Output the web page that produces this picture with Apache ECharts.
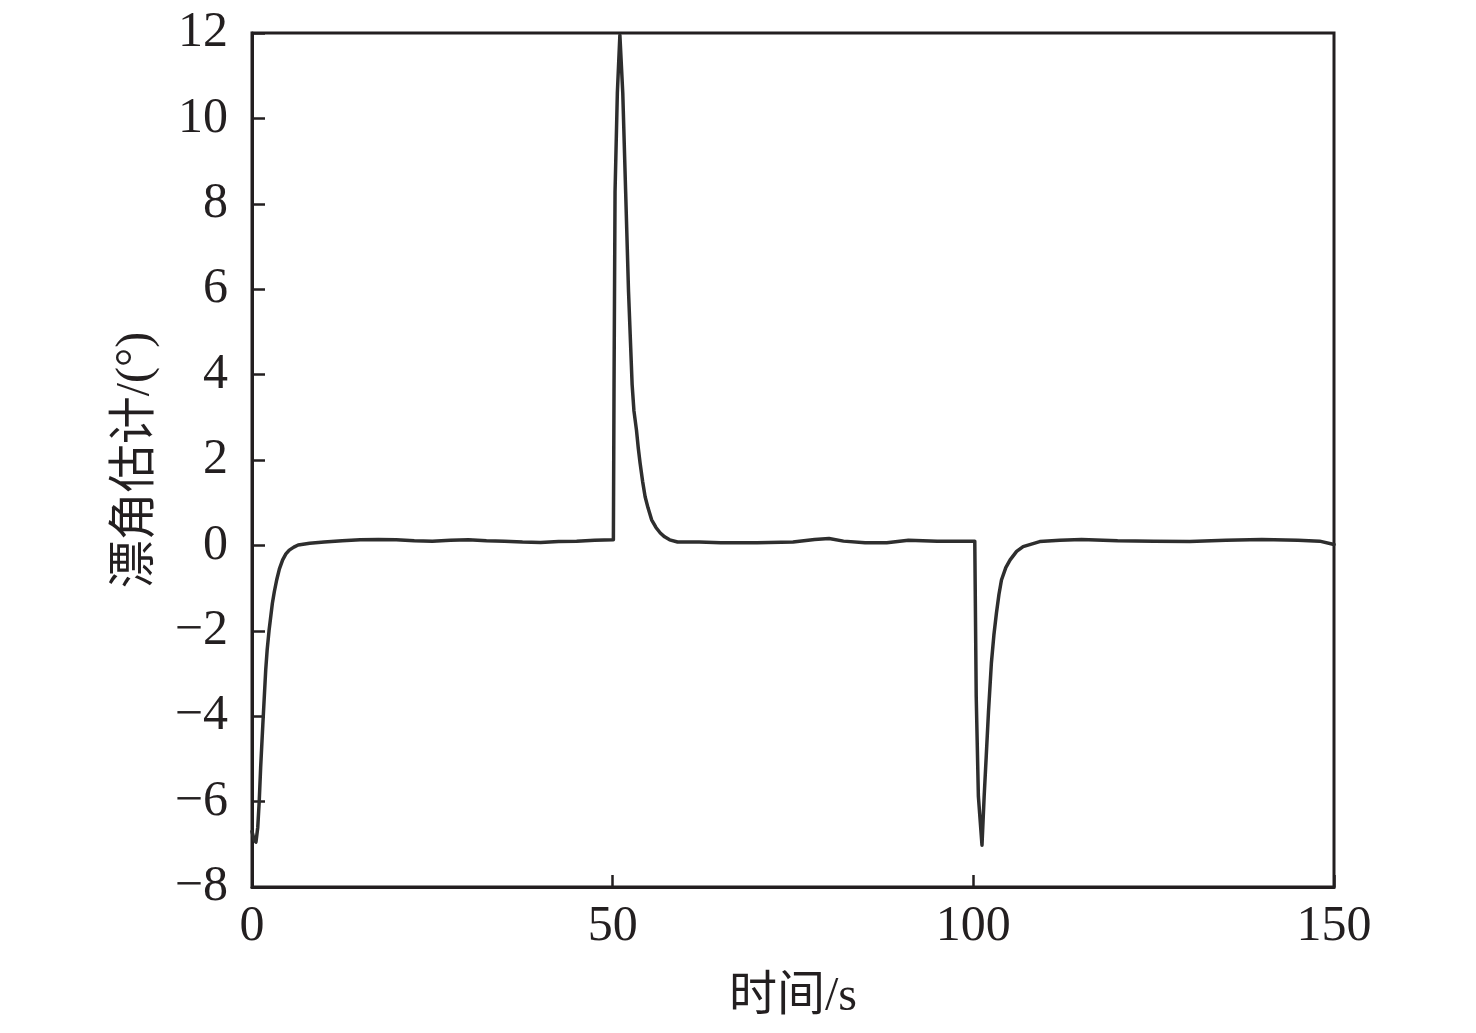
<!DOCTYPE html>
<html>
<head>
<meta charset="utf-8">
<script src="https://cdn.jsdelivr.net/npm/echarts@6/dist/echarts.min.js"></script>
<style>
html,body{margin:0;padding:0;background:#fff;}
#main{width:1476px;height:1033px;}
</style>
</head>
<body>
<div id="main"></div>
<script>
var timeValues = [0, 0.3, 0.55, 0.8, 1.0, 1.2, 1.5, 1.9, 2.1, 2.36, 2.82, 3.1, 3.42, 3.8, 4.25, 4.7, 5.17, 5.8, 6.4, 8, 10, 12.5, 15, 17.5, 20, 22.5, 25, 27.5, 30, 32.5, 35, 37.5, 40, 42.5, 45, 47.5, 50.1, 50.19, 50.33, 50.65, 51.0, 51.4, 51.8, 52.2, 52.7, 52.95, 53.3, 53.55, 53.8, 54.15, 54.5, 54.9, 55.4, 56.0, 56.6, 57.2, 57.9, 59, 62, 65, 70, 75, 78, 80, 82, 85, 88, 91, 95, 98, 100.2, 100.4, 100.7, 101.2, 101.5, 101.8, 102.1, 102.5, 102.85, 103.2, 103.55, 103.9, 104.5, 105.1, 106, 106.9, 109.2, 112, 115, 120, 125, 130, 135, 140, 145, 148, 150];
var driftValues = [-6.7, -6.9, -6.95, -6.6, -6.0, -5.2, -4.2, -2.92, -2.45, -2.0, -1.36, -1.08, -0.81, -0.55, -0.34, -0.2, -0.11, -0.04, 0.01, 0.05, 0.08, 0.11, 0.13, 0.14, 0.13, 0.11, 0.1, 0.12, 0.13, 0.11, 0.1, 0.08, 0.07, 0.09, 0.1, 0.12, 0.13, 3.76, 8.28, 10.6, 11.95, 10.6, 8.28, 5.94, 3.76, 3.15, 2.7, 2.28, 1.93, 1.5, 1.14, 0.88, 0.6, 0.42, 0.29, 0.2, 0.13, 0.08, 0.08, 0.06, 0.06, 0.08, 0.14, 0.16, 0.1, 0.06, 0.06, 0.12, 0.1, 0.1, 0.1, -3.54, -5.88, -7.02, -5.88, -4.9, -3.9, -2.76, -2.1, -1.59, -1.15, -0.81, -0.52, -0.34, -0.14, -0.03, 0.09, 0.12, 0.14, 0.11, 0.1, 0.09, 0.12, 0.14, 0.12, 0.1, 0.02];
var xTicks = [0, 50, 100, 150];
var yTicks = [-8, -6, -4, -2, 0, 2, 4, 6, 8, 10, 12];

var seriesData = timeValues.map(function (t, i) { return [t, driftValues[i]]; });
var axisColor = '#231f20';
var fontFam = '"Liberation Serif", "Noto Sans CJK SC", serif';

var chart = echarts.init(document.getElementById('main'));
chart.setOption({
  animation: false,
  backgroundColor: '#fff',
  grid: { left: 252, right: 142, top: 33, bottom: 146, show: true, borderColor: axisColor, borderWidth: 3 },
  xAxis: {
    type: 'value', min: xTicks[0], max: xTicks[xTicks.length - 1], interval: 50,
    name: '时间/s', nameLocation: 'middle', nameGap: 86,
    nameTextStyle: { fontFamily: fontFam, fontSize: 48, color: '#231f20' },
    axisLine: { show: true, onZero: false, lineStyle: { color: axisColor, width: 3 } },
    axisTick: { show: true, inside: true, length: 12, lineStyle: { color: axisColor, width: 2.5 } },
    axisLabel: { fontFamily: fontFam, fontSize: 50, color: '#231f20', margin: 15 },
    splitLine: { show: false }
  },
  yAxis: {
    type: 'value', min: yTicks[0], max: yTicks[yTicks.length - 1], interval: 2,
    name: '漂角估计/(°)', nameLocation: 'middle', nameGap: 92, nameRotate: 90,
    nameTextStyle: { fontFamily: fontFam, fontSize: 48, color: '#231f20' },
    axisLine: { show: true, onZero: false, lineStyle: { color: axisColor, width: 3 } },
    axisTick: { show: true, inside: true, length: 13, lineStyle: { color: axisColor, width: 2.5 } },
    axisLabel: { fontFamily: fontFam, fontSize: 50, color: '#231f20', margin: 24,
      formatter: function (v) { return String(v).replace('-', '\u2212'); } },
    splitLine: { show: false }
  },
  series: [{
    type: 'line', data: seriesData, showSymbol: false, smooth: false,
    lineStyle: { color: '#2e2e2e', width: 3.5, join: 'round', cap: 'round' }
  }]
});
</script>
</body>
</html>
